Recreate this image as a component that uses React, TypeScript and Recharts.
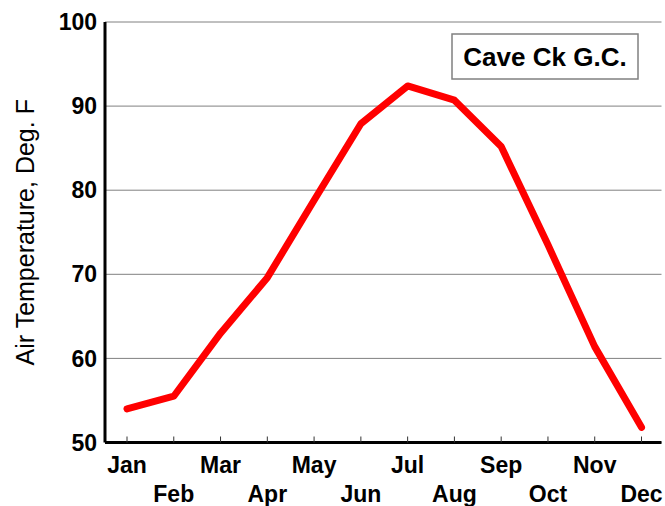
import React from 'react';
import { LineChart, Line, XAxis, YAxis, CartesianGrid } from 'recharts';

const months = ['Jan', 'Feb', 'Mar', 'Apr', 'May', 'Jun', 'Jul', 'Aug', 'Sep', 'Oct', 'Nov', 'Dec'];
const temps = [54.0, 55.5, 63.0, 69.6, 78.8, 87.9, 92.4, 90.7, 85.2, 73.5, 61.4, 51.8];
const yTicks = [50, 60, 70, 80, 90, 100];
const legendLabel = 'Cave Ck G.C.';

const data = months.map((m, i) => ({ month: m, temp: temps[i] }));

const FONT = '"Liberation Sans", Arial, Helvetica, sans-serif';

const MonthTick = (props: any) => {
  const { x, y, payload, index } = props;
  const row = index % 2;
  return (
    <g>
      <line x1={x} x2={x} y1={y} y2={y - 6} stroke="#333" strokeWidth={1} />
      <text
        x={x}
        y={y + (row === 0 ? 30 : 59.5)}
        textAnchor="middle"
        fontFamily={FONT}
        fontWeight="bold"
        fontSize={23}
        fill="#000"
      >
        {payload.value}
      </text>
    </g>
  );
};

export default function App() {
  return (
    <div style={{ position: 'absolute', left: 0, top: 0, width: 665, height: 506, background: '#fff' }}>
      <LineChart
        width={665}
        height={506}
        data={data}
        margin={{ top: 22, right: 3.5, bottom: 0, left: 0 }}
      >
        <CartesianGrid horizontal vertical={false} stroke="#808080" strokeWidth={1} />
        <XAxis
          dataKey="month"
          height={63.5}
          padding={{ left: 22, right: 20 }}
          tickSize={0}
          tickMargin={0}
          tickLine={false}
          interval={0}
          axisLine={{ stroke: '#000', strokeWidth: 3 }}
          tick={<MonthTick />}
        />
        <XAxis
          xAxisId="top"
          dataKey="month"
          orientation="top"
          height={0}
          tick={false}
          tickLine={false}
          axisLine={{ stroke: '#000', strokeWidth: 3 }}
        />
        <YAxis
          width={105}
          domain={[50, 100]}
          ticks={yTicks}
          interval={0}
          tickSize={0}
          tickMargin={8}
          tickLine={false}
          axisLine={{ stroke: '#000', strokeWidth: 3 }}
          tick={{ fill: '#000', fontSize: 23, fontWeight: 'bold', fontFamily: FONT }}
          label={{
            value: 'Air Temperature, Deg. F',
            angle: -90,
            position: 'insideLeft',
            style: { textAnchor: 'middle', fontSize: 25, fontFamily: FONT, fill: '#000' },
            dx: 20,
          }}
        />
        <YAxis
          yAxisId="right"
          orientation="right"
          width={0}
          domain={[50, 100]}
          ticks={yTicks}
          tick={false}
          tickLine={false}
          axisLine={{ stroke: '#000', strokeWidth: 3 }}
        />
        <Line
          type="linear"
          dataKey="temp"
          stroke="#ff0000"
          strokeWidth={7}
          strokeLinecap="round"
          strokeLinejoin="round"
          dot={false}
          activeDot={false}
          isAnimationActive={false}
        />
        <g>
          <rect x={452} y={34} width={186} height={45} fill="#fff" stroke="#808080" strokeWidth={1.5} />
          <text
            x={545}
            y={66}
            textAnchor="middle"
            fontFamily={FONT}
            fontWeight="bold"
            fontSize={26}
            fill="#000"
          >
            {legendLabel}
          </text>
        </g>
      </LineChart>
    </div>
  );
}
